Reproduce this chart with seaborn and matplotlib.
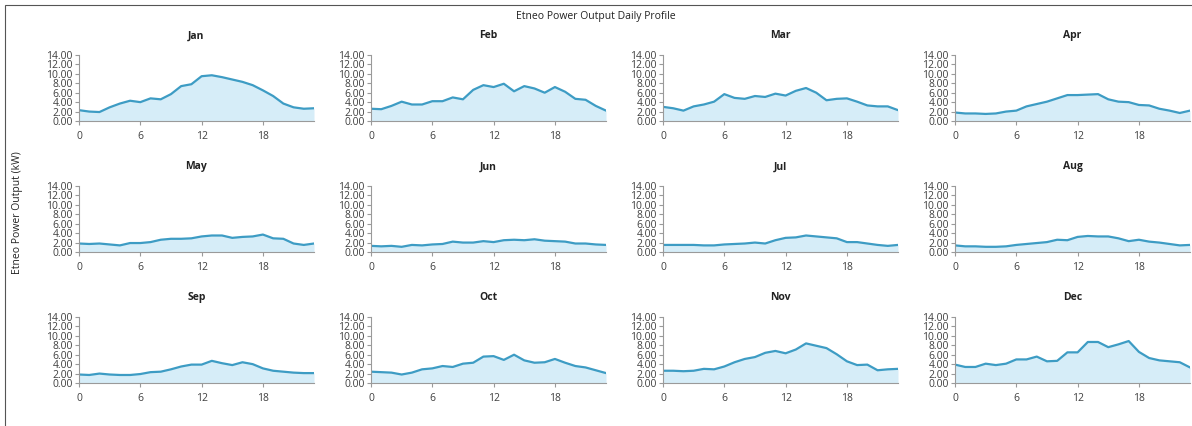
import matplotlib
matplotlib.use("Agg")
import matplotlib.pyplot as plt
import pandas as pd
import seaborn as sns

hours = list(range(24))
months = ["Jan", "Feb", "Mar", "Apr", "May", "Jun",
          "Jul", "Aug", "Sep", "Oct", "Nov", "Dec"]

jan = [2.3, 2.0, 1.9, 2.9, 3.7, 4.3, 4.0, 4.8, 4.6, 5.7, 7.4, 7.8,
       9.5, 9.7, 9.3, 8.8, 8.3, 7.6, 6.5, 5.3, 3.7, 2.9, 2.6, 2.7]
feb = [2.6, 2.5, 3.2, 4.1, 3.5, 3.5, 4.2, 4.2, 5.0, 4.6, 6.6, 7.6,
       7.2, 7.9, 6.3, 7.4, 6.9, 6.0, 7.2, 6.2, 4.7, 4.5, 3.2, 2.2]
mar = [3.0, 2.7, 2.2, 3.1, 3.5, 4.1, 5.7, 4.9, 4.7, 5.3, 5.1, 5.8,
       5.4, 6.4, 7.0, 6.0, 4.4, 4.7, 4.8, 4.1, 3.3, 3.1, 3.1, 2.3]
apr = [1.8, 1.6, 1.6, 1.5, 1.6, 2.0, 2.2, 3.1, 3.6, 4.1, 4.8, 5.5,
       5.5, 5.6, 5.7, 4.6, 4.1, 4.0, 3.4, 3.3, 2.6, 2.2, 1.7, 2.2]
may = [1.8, 1.7, 1.8, 1.6, 1.4, 1.9, 1.9, 2.1, 2.6, 2.8, 2.8, 2.9,
       3.3, 3.5, 3.5, 3.0, 3.2, 3.3, 3.7, 2.9, 2.8, 1.8, 1.5, 1.8]
jun = [1.3, 1.2, 1.3, 1.1, 1.5, 1.4, 1.6, 1.7, 2.2, 2.0, 2.0, 2.3,
       2.1, 2.5, 2.6, 2.5, 2.7, 2.4, 2.3, 2.2, 1.8, 1.8, 1.6, 1.5]
jul = [1.5, 1.5, 1.5, 1.5, 1.4, 1.4, 1.6, 1.7, 1.8, 2.0, 1.8, 2.5,
       3.0, 3.1, 3.5, 3.3, 3.1, 2.9, 2.1, 2.1, 1.8, 1.5, 1.3, 1.5]
aug = [1.4, 1.2, 1.2, 1.1, 1.1, 1.2, 1.5, 1.7, 1.9, 2.1, 2.6, 2.5,
       3.2, 3.4, 3.3, 3.3, 2.9, 2.3, 2.6, 2.2, 2.0, 1.7, 1.4, 1.5]
sep = [1.8, 1.7, 2.0, 1.8, 1.7, 1.7, 1.9, 2.3, 2.4, 2.9, 3.5, 3.9,
       3.9, 4.7, 4.2, 3.8, 4.4, 4.0, 3.1, 2.6, 2.4, 2.2, 2.1, 2.1]
oct_ = [2.4, 2.3, 2.2, 1.8, 2.2, 2.9, 3.1, 3.6, 3.4, 4.1, 4.3, 5.6,
        5.7, 4.9, 6.0, 4.8, 4.3, 4.4, 5.1, 4.3, 3.6, 3.3, 2.7, 2.1]
nov = [2.6, 2.6, 2.5, 2.6, 3.0, 2.9, 3.5, 4.4, 5.1, 5.5, 6.4, 6.8,
       6.3, 7.1, 8.4, 7.9, 7.4, 6.1, 4.6, 3.8, 3.9, 2.7, 2.9, 3.0]
dec = [3.9, 3.4, 3.4, 4.1, 3.8, 4.1, 5.0, 5.0, 5.6, 4.6, 4.7, 6.5,
       6.5, 8.7, 8.7, 7.6, 8.2, 8.9, 6.6, 5.3, 4.8, 4.6, 4.4, 3.3]

series = [jan, feb, mar, apr, may, jun, jul, aug, sep, oct_, nov, dec]

frames = []
for m, vals in zip(months, series):
    frames.append(pd.DataFrame({"month": m, "hour": hours, "kw": vals}))
df = pd.concat(frames, ignore_index=True)

sns.set_style("white")
plt.rcParams["font.family"] = ["Open Sans", "DejaVu Sans"]

line_color = "#3d9cc4"
fill_color = "#d6edf8"
axis_color = "#9a9a9a"
text_color = "#404040"

fig = plt.figure(figsize=(11.92, 4.26), dpi=100)

W, H = 1192, 426
col_left = [79, 371, 663, 955]
row_bottom = [121, 252, 383]
ax_w = 235
ax_h = 66

for i, m in enumerate(months):
    r, c = divmod(i, 4)
    ax = fig.add_axes([col_left[c] / W, 1 - row_bottom[r] / H, ax_w / W, ax_h / H])
    d = df[df.month == m]
    ax.fill_between(d.hour, d.kw, 0, color=fill_color, lw=0)
    sns.lineplot(data=d, x="hour", y="kw", ax=ax, color=line_color, lw=1.6)
    ax.set_xlim(0, 23)
    ax.set_ylim(0, 14)
    ax.set_xticks([0, 6, 12, 18])
    ax.set_yticks(range(0, 15, 2))
    ax.set_yticklabels([f"{v:.2f}" for v in range(0, 15, 2)])
    ax.set_xlabel("")
    ax.set_ylabel("")
    sns.despine(ax=ax)
    for s in ["left", "bottom"]:
        ax.spines[s].set_color(axis_color)
        ax.spines[s].set_linewidth(0.8)
    ax.tick_params(axis="both", colors=axis_color, labelcolor=text_color,
                   length=3, width=0.8, labelsize=7.5, pad=1.5, left=True, bottom=True)
    ax.tick_params(axis="x", pad=4)
    ax.set_title(m, fontsize=7.5, fontweight="bold", color="#222222", pad=12)

fig.text(0.5, 1 - 17 / H, "Etneo Power Output Daily Profile",
         ha="center", va="center", fontsize=7.5, color="#222222")
fig.text(18 / W, 0.5, "Etneo Power Output (kW)", rotation=90,
         ha="center", va="center", fontsize=7.5, color="#222222")

border = plt.Rectangle((5 / W, -0.02), 1.1, 1 - 5 / H + 0.02,
                       transform=fig.transFigure, fill=False,
                       edgecolor="#555555", lw=0.8)
fig.patches.append(border)

fig.savefig("out.png", dpi=100)
